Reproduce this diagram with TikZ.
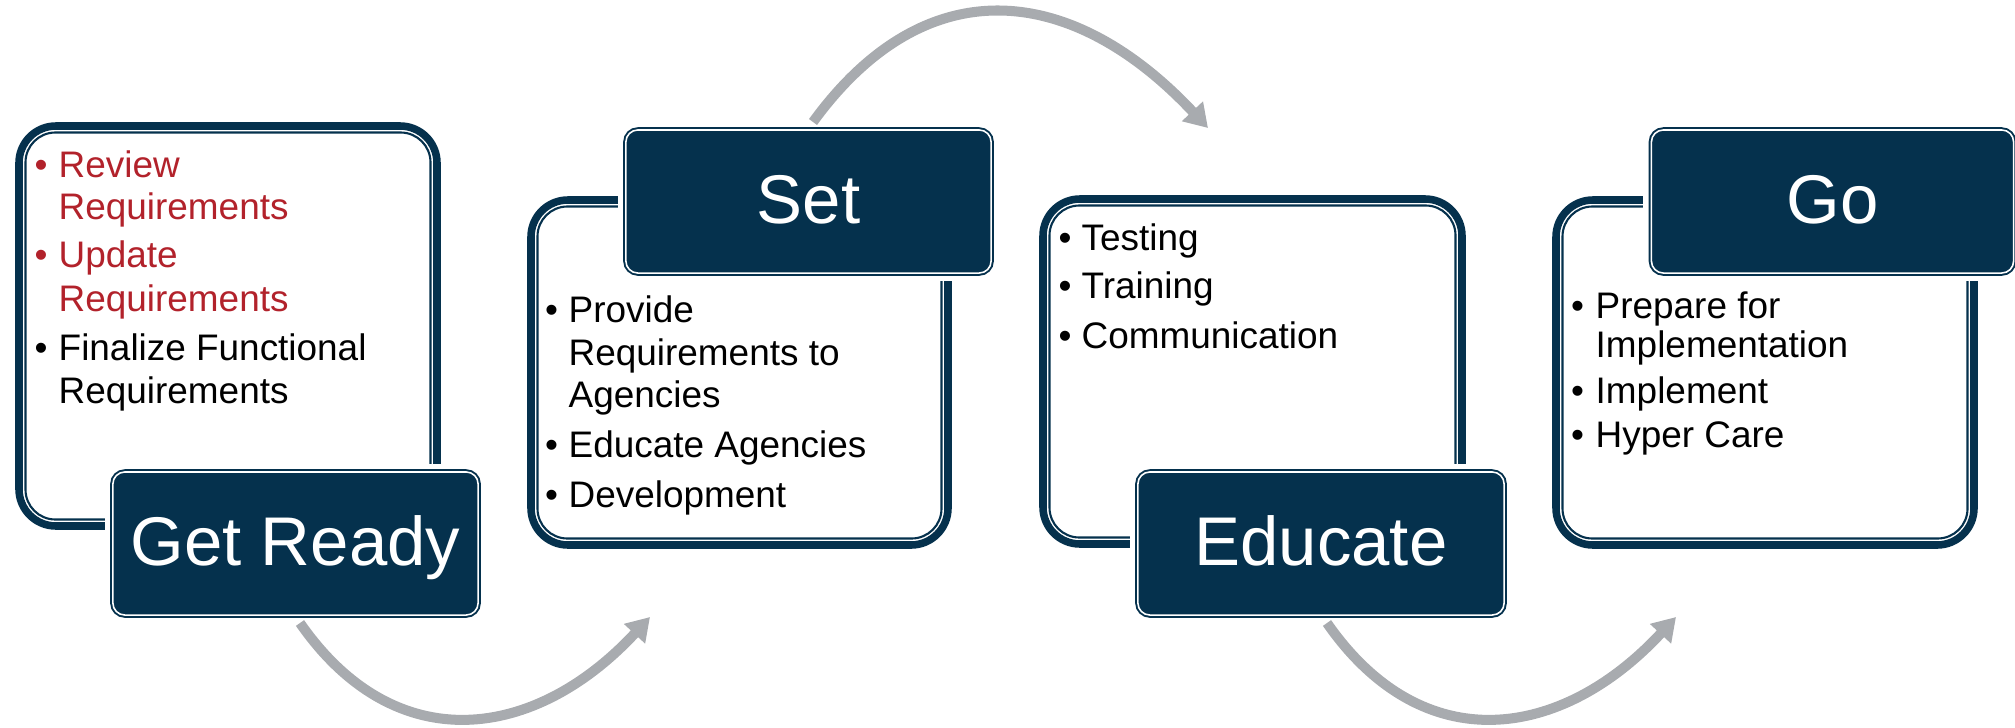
\documentclass[tikz,border=0pt]{standalone}
\usepackage{fontspec}
\setmainfont{Liberation Sans}
\usetikzlibrary{arrows.meta}
\definecolor{navy}{RGB}{5,49,77}
\definecolor{redtxt}{RGB}{178,34,43}
\definecolor{arrowgray}{RGB}{168,171,175}
\newcommand{\mycontentbox}[4]{%
  \draw[thickln] (#1+4,#2+4) rectangle (#3-4,#4-4);
  \draw[thinln] (#1+10.5,#2+10.5) rectangle (#3-10.5,#4-10.5);
}
\begin{document}
\begin{tikzpicture}[x=0.01cm,y=-0.01cm,
  thickln/.style={draw=navy, line width=2.15pt, rounded corners=10.5pt},
  thinln/.style={draw=navy, line width=0.6pt, rounded corners=8.5pt},
  titlebox/.style={fill=navy, draw=navy, line width=0.55pt, double=white, double distance=0.45pt,
    rounded corners=3.4pt, inner sep=0pt, text=white, font=\fontsize{19.6pt}{23pt}\selectfont,
    text height=0.43cm, text depth=0cm},
  body/.style={anchor=base west, inner sep=0pt, font=\fontsize{10.5pt}{12.6pt}\selectfont},
  bul/.style={anchor=base, inner sep=0pt, font=\fontsize{10.5pt}{12.6pt}\selectfont},
  red/.style={text=redtxt},
  cyclearrow/.style={draw=arrowgray, line width=2.85pt, -{Triangle[length=6.5pt,width=7.8pt]}}
]
\useasboundingbox (0,0) rectangle (2015,727);

% content boxes
\mycontentbox{15}{122}{441}{530}
\mycontentbox{527}{196}{952}{549}
\mycontentbox{1039}{195}{1466}{548}
\mycontentbox{1552}{196}{1978}{549}

% white clearance around title boxes
\fill[white] (105,464) rectangle (486,623);
\fill[white] (618,122) rectangle (999,281);
\fill[white] (1130,464) rectangle (1512,623);
\fill[white] (1643,122) rectangle (2015,281);

% title boxes
\node[titlebox, minimum width=3.65cm, minimum height=1.43cm] (t1) at (295.5,543.5) {Get Ready};
\node[titlebox, minimum width=3.65cm, minimum height=1.43cm] (t2) at (808.5,201.5) {Set};
\node[titlebox, minimum width=3.66cm, minimum height=1.43cm] (t3) at (1321,543.5) {Educate};
\node[titlebox, minimum width=3.62cm, minimum height=1.43cm] (t4) at (1832.5,201.5) {Go};

% box 1 text
\node[bul, red] (b1a) at (41,177) {•};
\node[body, red] (l1a) at (58,177) {Review};
\node[body, red] (l1b) at (58,219) {Requirements};
\node[bul, red] (b1b) at (41,267) {•};
\node[body, red] (l1c) at (58,267) {Update};
\node[body, red] (l1d) at (58,311) {Requirements};
\node[bul] (b1c) at (41,360) {•};
\node[body] (l1e) at (58,360) {Finalize Functional};
\node[body] (l1f) at (58,403) {Requirements};

% box 2 text
\node[bul] (b2a) at (551.5,322) {•};
\node[body] (l2a) at (568,322) {Provide};
\node[body] (l2b) at (568,365) {Requirements to};
\node[body] (l2c) at (568,407) {Agencies};
\node[bul] (b2b) at (551.5,457) {•};
\node[body] (l2d) at (568,457) {Educate Agencies};
\node[bul] (b2c) at (551.5,507) {•};
\node[body] (l2e) at (568,507) {Development};

% box 3 text
\node[bul] (b3a) at (1065,250) {•};
\node[body] (l3a) at (1081,250) {Testing};
\node[bul] (b3b) at (1065,298) {•};
\node[body] (l3b) at (1081,298) {Training};
\node[bul] (b3c) at (1065,348) {•};
\node[body] (l3c) at (1081,348) {Communication};

% box 4 text
\node[bul] (b4a) at (1577.5,318) {•};
\node[body] (l4a) at (1595,318) {Prepare for};
\node[body] (l4b) at (1595,357) {Implementation};
\node[bul] (b4b) at (1577.5,403) {•};
\node[body] (l4c) at (1595,403) {Implement};
\node[bul] (b4c) at (1577.5,447) {•};
\node[body] (l4d) at (1595,447) {Hyper Care};

% arrows
\coordinate (a1s) at (300,623);
\coordinate (a1e) at (650,617);
\coordinate (a2s) at (813,122);
\coordinate (a2e) at (1208,128);
\coordinate (a3s) at (1327,623);
\coordinate (a3e) at (1676,617);
\draw[cyclearrow] (a1s) .. controls (396,761) and (536,740) .. (a1e);
\draw[cyclearrow] (a2s) .. controls (928,-36) and (1075,-14) .. (a2e);
\draw[cyclearrow] (a3s) .. controls (1423,761) and (1562,740) .. (a3e);
\end{tikzpicture}
\end{document}
